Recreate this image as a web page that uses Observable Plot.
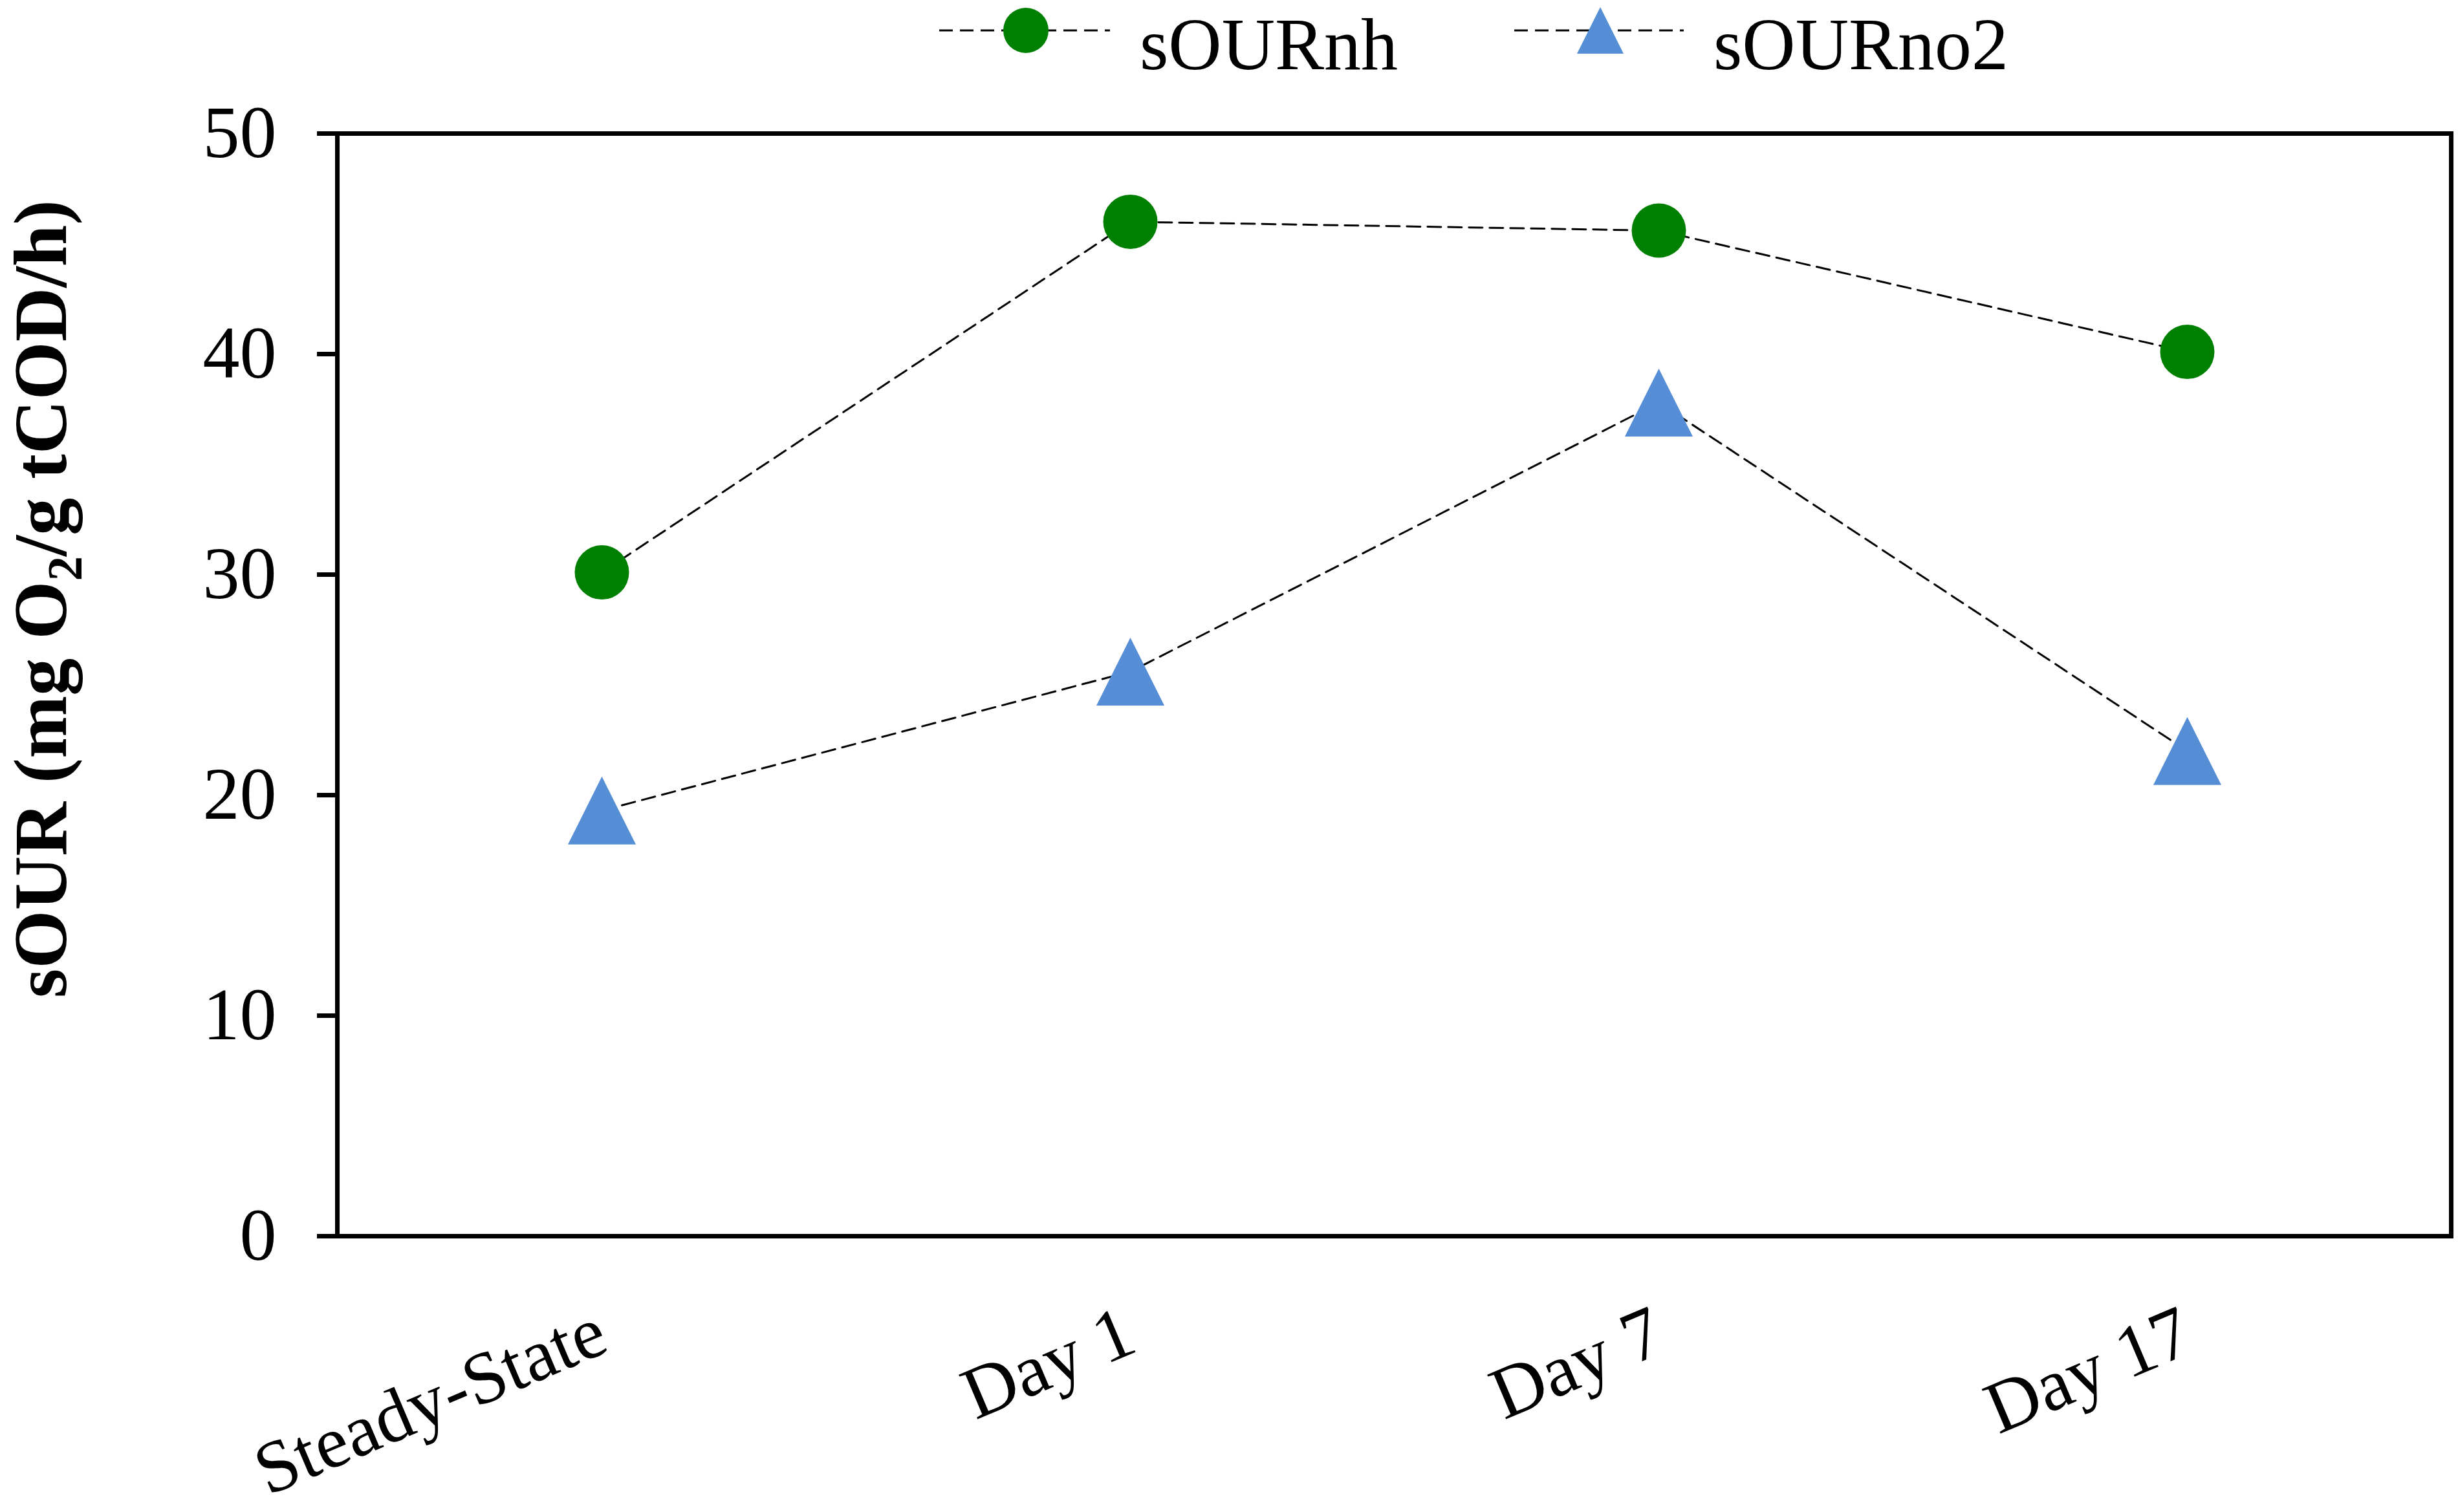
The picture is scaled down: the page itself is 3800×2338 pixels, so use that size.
<!DOCTYPE html>
<html>
<head>
<meta charset="utf-8">
<script src="https://cdn.jsdelivr.net/npm/d3@7"></script>
<script src="https://cdn.jsdelivr.net/npm/@observablehq/plot@0.6"></script>
<style>
  html, body { margin: 0; padding: 0; background: #fff; }
  #chart svg { display: block; }
</style>
</head>
<body>
<div id="chart"></div>
<script>
const categories = ["Steady-State", "Day 1", "Day 7", "Day 17"];
const sOURnh = [30.1, 46.0, 45.6, 40.1];
const sOURno2 = [19.3, 25.6, 37.8, 22.0];
const yTicks = [0, 10, 20, 30, 40, 50];
const seriesNames = ["sOURnh", "sOURno2"];
const seriesColors = ["#008000", "#558ED5"];

const FONT = "'Liberation Serif', 'Times New Roman', Times, serif";

const rows = [];
categories.forEach((c, i) => {
  rows.push({cat: c, series: "sOURnh", value: sOURnh[i]});
  rows.push({cat: c, series: "sOURno2", value: sOURno2[i]});
});
const nhRows = rows.filter(d => d.series === "sOURnh");
const no2Rows = rows.filter(d => d.series === "sOURno2");

// triangle whose bounding box is centered on the point
const triangle = {
  draw(context, size) {
    const s = Math.sqrt(size / Math.PI) * 1.25;
    context.moveTo(0, -s);
    context.lineTo(s, s);
    context.lineTo(-s, s);
    context.closePath();
  }
};

const plot = Plot.plot({
  width: 3800,
  height: 2338,
  marginLeft: 521,
  marginRight: 11,
  marginTop: 206,
  marginBottom: 427,
  style: {fontFamily: FONT, color: "black", background: "white"},
  x: {type: "point", domain: categories, padding: 0.5},
  y: {domain: [0, 50]},
  marks: [
    Plot.line(rows, {x: "cat", y: "value", z: "series", stroke: "black", strokeWidth: 3, strokeDasharray: "21,11"}),
    Plot.dot(nhRows, {x: "cat", y: "value", r: 42, fill: seriesColors[0], symbol: "circle"}),
    Plot.dot(no2Rows, {x: "cat", y: "value", r: 42, fill: seriesColors[1], symbol: triangle}),
    Plot.frame({stroke: "black", strokeWidth: 7}),
    Plot.axisY({ticks: yTicks, tickSize: 31, tickPadding: 63, fontSize: 114, strokeWidth: 7, label: null, fontFamily: FONT}),
    Plot.axisX({tickSize: 0, tickPadding: 143, tickRotate: -23, textAnchor: "end", fontSize: 114, label: null, fontFamily: FONT})
  ]
});

document.getElementById("chart").appendChild(plot);

const svg = d3.select(plot);

// y-axis title with subscript
const yt = svg.append("text")
  .attr("transform", "translate(102,926) rotate(-90)")
  .attr("text-anchor", "middle")
  .attr("font-family", FONT)
  .attr("font-weight", "bold")
  .attr("font-size", 116)
  .attr("fill", "black");
yt.append("tspan").text("sOUR (mg O");
yt.append("tspan").attr("font-size", 77).attr("dy", 24).text("2");
yt.append("tspan").attr("dy", -24).text("/g tCOD/h)");

// legend
const legend = svg.append("g").attr("class", "legend");
const legendItems = [
  {name: seriesNames[0], color: seriesColors[0], x0: 1452, x1: 1716, cx: 1586, tx: 1762, shape: "circle"},
  {name: seriesNames[1], color: seriesColors[1], x0: 2341, x1: 2603, cx: 2474, tx: 2649, shape: "triangle"}
];
legendItems.forEach(it => {
  legend.append("line")
    .attr("x1", it.x0).attr("x2", it.x1).attr("y1", 47).attr("y2", 47)
    .attr("stroke", "black").attr("stroke-width", 3).attr("stroke-dasharray", "21,11");
  if (it.shape === "circle") {
    legend.append("circle").attr("cx", it.cx).attr("cy", 47).attr("r", 35).attr("fill", it.color);
  } else {
    const s = 36;
    legend.append("path")
      .attr("d", `M${it.cx},${47 - s}L${it.cx + s},${47 + s}L${it.cx - s},${47 + s}Z`)
      .attr("fill", it.color);
  }
  legend.append("text")
    .attr("x", it.tx).attr("y", 107)
    .attr("text-anchor", "start")
    .attr("font-family", FONT).attr("font-size", 114).attr("fill", "black")
    .text(it.name);
});
</script>
</body>
</html>
